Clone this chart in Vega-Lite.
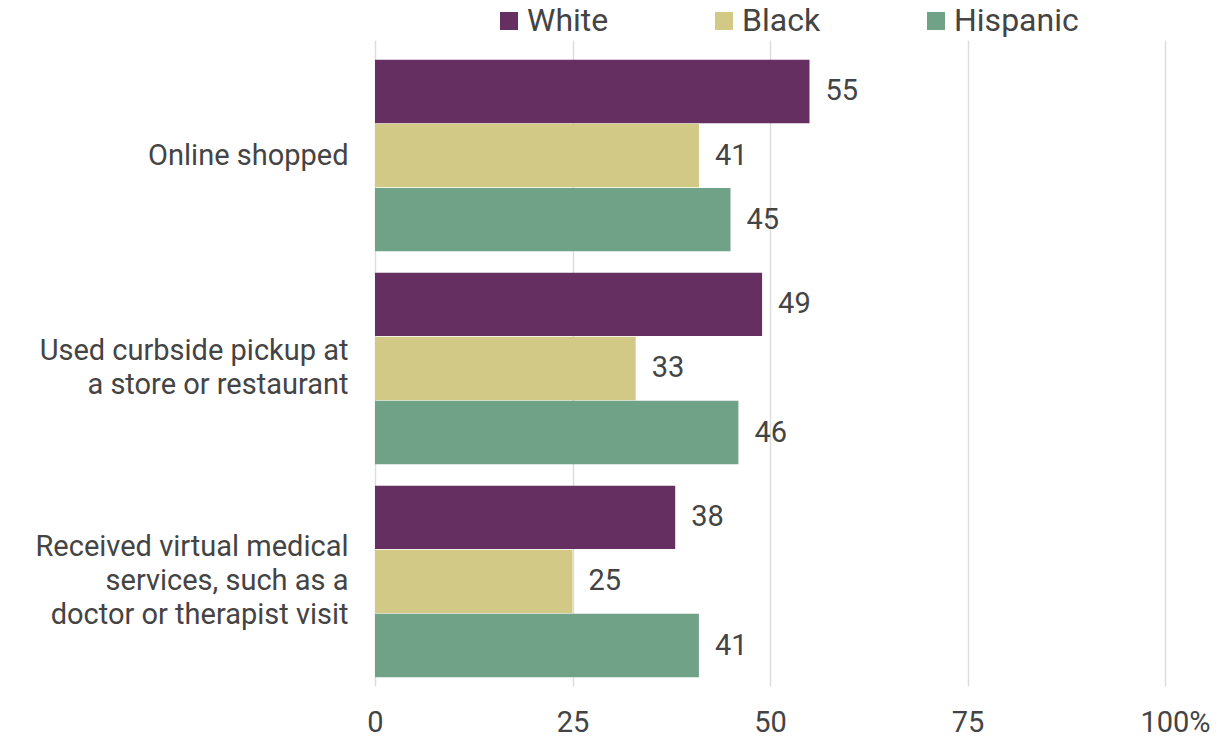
{
  "$schema": "https://vega.github.io/schema/vega-lite/v6.json",
  "autosize": "none",
  "width": 790,
  "height": 646,
  "padding": {"left": 375, "top": 40, "right": 60, "bottom": 53},
  "background": "white",
  "config": {
    "font": "Roboto",
    "view": {"stroke": null}
  },
  "data": {
    "values": [
      {"activity": "Online shopped", "group": "White", "value": 55},
      {"activity": "Online shopped", "group": "Black", "value": 41},
      {"activity": "Online shopped", "group": "Hispanic", "value": 45},
      {"activity": "Used curbside pickup at|a store or restaurant", "group": "White", "value": 49},
      {"activity": "Used curbside pickup at|a store or restaurant", "group": "Black", "value": 33},
      {"activity": "Used curbside pickup at|a store or restaurant", "group": "Hispanic", "value": 46},
      {"activity": "Received virtual medical|services, such as a|doctor or therapist visit", "group": "White", "value": 38},
      {"activity": "Received virtual medical|services, such as a|doctor or therapist visit", "group": "Black", "value": 25},
      {"activity": "Received virtual medical|services, such as a|doctor or therapist visit", "group": "Hispanic", "value": 41}
    ]
  },
  "encoding": {
    "y": {
      "field": "activity",
      "type": "nominal",
      "sort": null,
      "scale": {"paddingInner": 0.1, "paddingOuter": 0.0665, "align": 0.694},
      "axis": {
        "title": null,
        "domain": false,
        "ticks": false,
        "labelExpr": "split(datum.label, '|')",
        "labelOffset": {
          "condition": [
            {"test": "indexof(datum.value, 'Used') == 0", "value": -17},
            {"test": "indexof(datum.value, 'Received') == 0", "value": -34}
          ],
          "value": 0
        },
        "labelFont": "Roboto",
        "labelFontSize": 29,
        "labelColor": "#444444",
        "labelPadding": 27,
        "labelBaseline": "middle",
        "labelLineHeight": 34,
        "labelLimit": 400
      }
    },
    "yOffset": {
      "field": "group",
      "type": "nominal",
      "sort": ["White", "Black", "Hispanic"],
      "scale": {"paddingInner": 0.01}
    },
    "x": {
      "field": "value",
      "type": "quantitative",
      "scale": {"domain": [0, 100], "nice": false},
      "axis": {
        "title": null,
        "values": [0, 25, 50, 75, 100],
        "labelExpr": "datum.value == 100 ? '100%' : datum.label",
        "labelFlush": false,
        "labelOffset": {"condition": {"test": "datum.value == 100", "value": 10}, "value": 0},
        "domain": false,
        "ticks": false,
        "grid": true,
        "gridColor": "#dddddd",
        "gridWidth": 1.5,
        "labelFont": "Roboto",
        "labelFontSize": 29,
        "labelColor": "#444444",
        "labelPadding": 22
      }
    }
  },
  "layer": [
    {
      "mark": {"type": "bar"},
      "encoding": {
        "color": {
          "field": "group",
          "type": "nominal",
          "sort": ["White", "Black", "Hispanic"],
          "scale": {
            "domain": ["White", "Black", "Hispanic"],
            "range": ["#652f62", "#d2c986", "#6fa287"]
          },
          "legend": {
            "title": null,
            "orient": "none",
            "direction": "horizontal",
            "legendX": 118,
            "legendY": -35,
            "symbolType": "square",
            "symbolSize": 324,
            "symbolStrokeWidth": 0,
            "labelFont": "Roboto",
            "labelFontSize": 32,
            "labelColor": "#444444",
            "labelOffset": 2,
            "columnPadding": 99,
            "labelLimit": 300
          }
        }
      }
    },
    {
      "mark": {
        "type": "text",
        "align": "left",
        "baseline": "middle",
        "dx": 16,
        "font": "Roboto",
        "fontSize": 29,
        "color": "#444444"
      },
      "encoding": {
        "text": {"field": "value", "type": "quantitative"}
      }
    }
  ]
}
